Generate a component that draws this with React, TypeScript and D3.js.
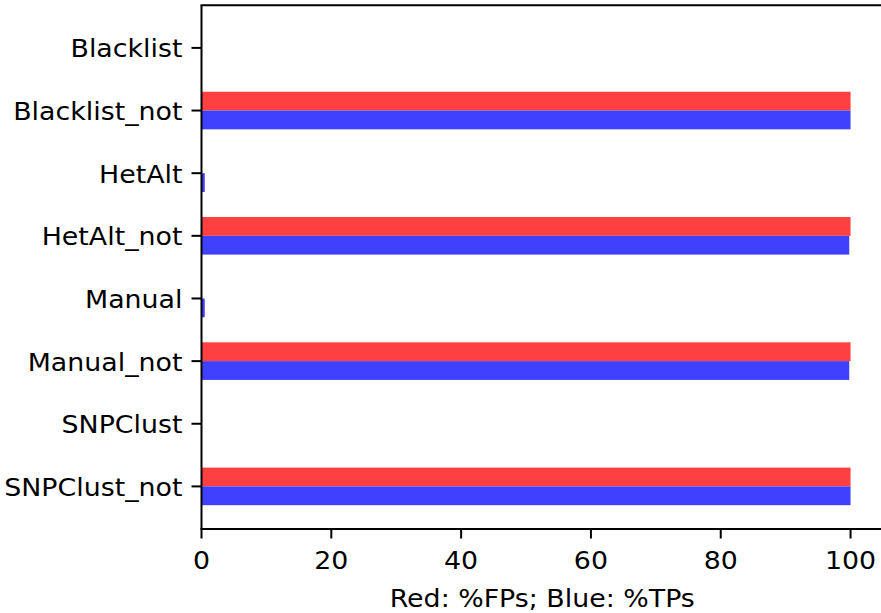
import React from "react";
import * as d3 from "d3";

const categories = ["Blacklist", "Blacklist_not", "HetAlt", "HetAlt_not", "Manual", "Manual_not", "SNPClust", "SNPClust_not"];
const fpPct = [0, 100, 0, 100, 0, 100, 0, 100];
const tpPct = [0, 100, 0.5, 99.8, 0.5, 99.8, 0, 100];
const xTicks = [0, 20, 40, 60, 80, 100];
const xLabel = "Red: %FPs; Blue: %TPs";

const W = 881, H = 613;
const left = 201.5, right = 883, top = 5.3, bottom = 529;
const FS = 24.5;
const SX = 1.095;
const FONT = "DejaVu Sans, sans-serif";

export default function App() {
  const x = d3.scaleLinear().domain([0, 105]).range([left, right]);
  const y = d3.scaleLinear().domain([-0.68, 7.68]).range([top, bottom]);
  const bh = 0.3;
  const T = (props: { x: number; y: number; anchor: string; children: React.ReactNode }) => (
    <text
      transform={`translate(${props.x},${props.y}) scale(${SX},1)`}
      textAnchor={props.anchor as any}
      fontFamily={FONT}
      fontSize={FS}
      fill="#000"
    >
      {props.children}
    </text>
  );
  return (
    <svg width={W} height={H} style={{ position: "absolute", left: 0, top: 0, background: "#fff" }}>
      <rect x={0} y={0} width={W} height={H} fill="#fff" />
      {categories.map((c, i) => (
        <g key={c}>
          <rect x={x(0)} y={y(i - bh)} width={x(fpPct[i]) - x(0)} height={y(i) - y(i - bh)} fill="#ff4040" />
          <rect x={x(0)} y={y(i)} width={x(tpPct[i]) - x(0)} height={y(i + bh) - y(i)} fill="#4040ff" />
        </g>
      ))}
      {/* spines */}
      <line x1={left} x2={left} y1={top} y2={bottom} stroke="#000" strokeWidth={2} />
      <line x1={left - 1} x2={W} y1={top} y2={top} stroke="#000" strokeWidth={2} />
      <line x1={left - 1} x2={W} y1={bottom} y2={bottom} stroke="#000" strokeWidth={2} />
      {/* y ticks */}
      {categories.map((c, i) => (
        <g key={"t" + c}>
          <line x1={left - 10} x2={left} y1={y(i)} y2={y(i)} stroke="#000" strokeWidth={2} />
          <T x={left - 19} y={y(i) + 9.5} anchor="end">{c}</T>
        </g>
      ))}
      {/* x ticks */}
      {xTicks.map((t) => (
        <g key={"x" + t}>
          <line x1={x(t)} x2={x(t)} y1={bottom} y2={bottom + 9.5} stroke="#000" strokeWidth={2} />
          <T x={x(t)} y={568.5} anchor="middle">{t}</T>
        </g>
      ))}
      <T x={(left + right) / 2} y={606.5} anchor="middle">{xLabel}</T>
    </svg>
  );
}
